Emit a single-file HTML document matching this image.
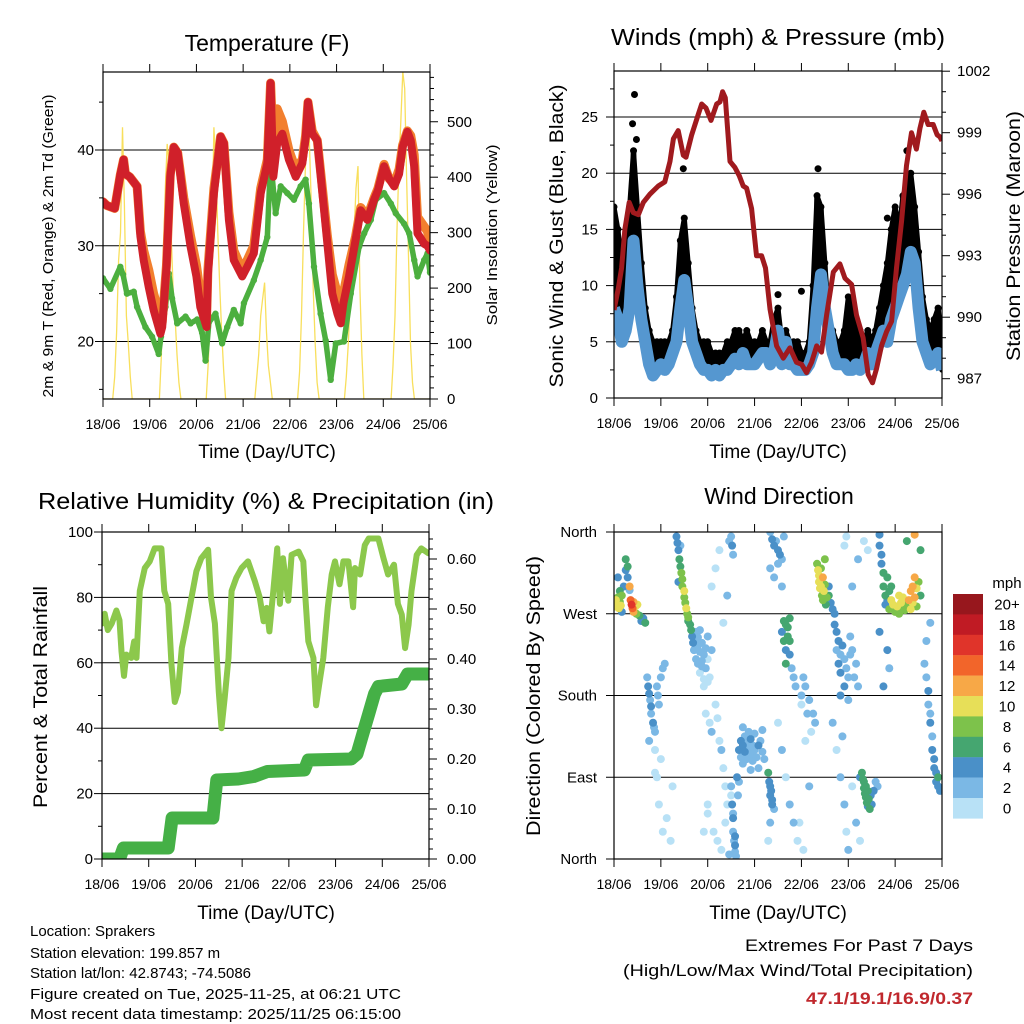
<!DOCTYPE html>
<html><head><meta charset="utf-8"><title>Station meteogram</title>
<style>
html,body{margin:0;padding:0;background:#fff;}
svg{display:block;font-family:"Liberation Sans",Arial,sans-serif;}
</style></head>
<body>
<svg id="chart" xmlns="http://www.w3.org/2000/svg" width="1024" height="1024" viewBox="0 0 1024 1024">
<rect x="0" y="0" width="1024" height="1024" fill="#fff"/>
<defs>
<clipPath id="cT"><rect x="103" y="72" width="327" height="327"/></clipPath>
<clipPath id="cW"><rect x="614" y="71" width="328" height="327"/></clipPath>
<clipPath id="cR"><rect x="102" y="532" width="327" height="327"/></clipPath>
<clipPath id="cD"><rect x="614" y="532" width="328" height="327"/></clipPath>
</defs>
<text x="267" y="51" font-size="23" text-anchor="middle">Temperature (F)</text>
<text x="778" y="45" font-size="23" text-anchor="middle" textLength="334" lengthAdjust="spacingAndGlyphs">Winds (mph) &amp; Pressure (mb)</text>
<text x="266" y="509" font-size="23" text-anchor="middle" textLength="456" lengthAdjust="spacingAndGlyphs">Relative Humidity (%) &amp; Precipitation (in)</text>
<text x="779" y="504" font-size="23" text-anchor="middle">Wind Direction</text>
<text x="267" y="458" font-size="19" text-anchor="middle">Time (Day/UTC)</text>
<text x="778" y="458" font-size="19" text-anchor="middle">Time (Day/UTC)</text>
<text x="266" y="919" font-size="19" text-anchor="middle">Time (Day/UTC)</text>
<text x="778" y="919" font-size="19" text-anchor="middle">Time (Day/UTC)</text>
<text transform="translate(53,246) rotate(-90)" font-size="15" text-anchor="middle" textLength="303" lengthAdjust="spacingAndGlyphs">2m &amp; 9m T (Red, Orange) &amp; 2m Td (Green)</text>
<text transform="translate(497,235) rotate(-90)" font-size="15" text-anchor="middle" textLength="181" lengthAdjust="spacingAndGlyphs">Solar Insolation (Yellow)</text>
<text transform="translate(563,236) rotate(-90)" font-size="19" text-anchor="middle" textLength="303" lengthAdjust="spacingAndGlyphs">Sonic Wind &amp; Gust (Blue, Black)</text>
<text transform="translate(1020,236) rotate(-90)" font-size="19" text-anchor="middle" textLength="250" lengthAdjust="spacingAndGlyphs">Station Pressure (Maroon)</text>
<text transform="translate(47,697) rotate(-90)" font-size="19" text-anchor="middle" textLength="222" lengthAdjust="spacingAndGlyphs">Percent &amp; Total Rainfall</text>
<text transform="translate(540,696) rotate(-90)" font-size="19" text-anchor="middle" textLength="280" lengthAdjust="spacingAndGlyphs">Direction (Colored By Speed)</text>
<g font-size="15">
<text x="30" y="936">Location: Sprakers</text>
<text x="30" y="958">Station elevation: 199.857 m</text>
<text x="30" y="978">Station lat/lon: 42.8743; -74.5086</text>
<text x="30" y="999" textLength="371" lengthAdjust="spacingAndGlyphs">Figure created on Tue, 2025-11-25, at 06:21 UTC</text>
<text x="30" y="1019" textLength="371" lengthAdjust="spacingAndGlyphs">Most recent data timestamp: 2025/11/25 06:15:00</text>
</g>
<g font-size="17" text-anchor="end">
<text x="973" y="951" textLength="228" lengthAdjust="spacingAndGlyphs">Extremes For Past 7 Days</text>
<text x="973" y="976" textLength="350" lengthAdjust="spacingAndGlyphs">(High/Low/Max Wind/Total Precipitation)</text>
<text x="973" y="1004" fill="#c0282d" font-weight="bold" textLength="167" lengthAdjust="spacingAndGlyphs">47.1/19.1/16.9/0.37</text>
</g>
<g id="layer"></g>
</svg>
<script>
// ---------- data ----------
const dayLabels = ["18/06","19/06","20/06","21/06","22/06","23/06","24/06","25/06"];
const tempHours = [0,2,6,8.9,10.6,11.5,13.7,17.5,19.2,20.9,23.5,26,29.5,30.4,32.6,34.6,36.4,38.4,41.5,45,48,50,53.2,53.9,57,60.4,62.1,64.7,67.2,71.5,74.1,77.5,81,84.4,86.1,87.5,89.5,92.1,95.5,99,102.4,104.1,105.3,107.5,110.1,112.7,115.3,117.8,120.4,122.1,123.5,126.4,129.8,132.4,135.8,139.3,141.3,144.4,147,149.6,152.1,153.9,156.4,158.1,159.9,161.6,165,166.7,168];
const temp2m = [34.6,34.2,33.9,37.4,39,37.5,37.2,36.2,31,28.5,25.7,23.3,20.8,21.5,27.8,37.2,40.3,39.7,34.4,29.9,26.8,23.6,21.5,27,35.5,41.4,40.7,32.7,28.5,26.8,27.8,29.2,35.5,38.6,47,37.2,40.7,41.7,39,37.2,38.6,41.2,45,41.7,41,35.5,30.2,25,22.9,21.9,24,26.8,30.6,33.7,32.7,34.8,35.8,38.3,37,36.2,37.5,40.3,41.9,41,38.3,31.3,30.2,30,29.5];
const temp9m = [34.6,34.2,33.9,37.4,39,37.5,37.2,36.2,31.5,29.5,27.5,25,22.5,22,28,37.5,40.3,39.7,35,31,28,25,22.5,27.5,36,41.4,40.7,33.5,29.5,27.5,28.5,30,36,39,47,40,44.3,43,40,38,39,41.5,45,42,41,36,31,27,25,23.5,25,28,31,34,33,35,36,38.5,37,36.5,38,40.5,42,41.5,39.5,33,32,31.5,30];
const dewHours = [0,3.8,8.9,10.3,12.3,15.8,17.5,21.8,25.2,28.6,29.8,32.1,33.8,35.5,38.1,42.4,45,48.4,50.9,52.7,54.4,57.8,61.2,63.8,67.2,70.7,72.4,77.5,81,84.4,86.1,88.7,91.3,94.7,98.1,101.5,104.1,105.8,108.4,111.8,114.4,117,119.6,123.8,127.3,131.6,134.2,137.6,140.1,144.4,147.9,150.4,154.7,157.3,159.9,161.6,165,166.7,168];
const dewPoint = [26.6,25.5,27.8,27,25,25.2,23.6,21.5,20.5,18.7,20.5,23.6,27.1,24.5,21.9,22.6,21.9,22.3,20.9,18,22,22.9,19.8,21.5,23.3,21.9,24,26.4,28.5,30.9,39,33.4,36.2,35.5,34.8,36.2,36.9,34.4,27.8,22.9,20.1,16,19.8,20,25,29.9,31.3,32.7,34.8,35.5,34.4,33.4,32.3,31.3,28.5,26.8,28.5,29.2,27.2];
const solarHours = [0,5,6,7,8,9,10,11,12,13,14,15,29,30,31,32,33,34,35,36,37,38,39,40,53,54,55,56,57,58,59,60,61,62,63,78,79,80,81,82,83,84,85,86,87,100,101,102,103,104,105,106,107,108,109,110,111,124,125,126,127,128,129,130,131,132,133,134,148,149,150,151,152,153,154,155,156,157,158,159,160,168];
const solarVals = [0,0,40,120,250,300,490,350,150,100,40,0,0,80,250,380,460,420,300,200,150,80,30,0,0,60,150,300,490,420,300,200,120,50,0,0,40,80,150,180,210,120,60,30,0,0,50,150,300,420,490,470,350,200,100,30,0,0,40,100,180,250,300,380,420,200,80,0,0,60,150,300,420,500,590,560,400,250,100,30,0,0];
const windHours = [0,2,4,6,8,10,12,14,16,18,20,22,24,26,28,30,32,34,36,38,40,42,44,46,48,50,52,54,56,58,60,62,64,66,68,70,72,74,76,78,80,82,84,86,88,90,92,94,96,98,100,102,104,106,108,110,112,114,116,118,120,122,124,126,128,130,132,134,136,138,140,142,144,146,148,150,152,154,156,158,160,162,164,166,168];
const windSpeed = [8,7,5,6,8,14,10,7,5,3,2,2.5,3,2.5,3,4,5,8,10.5,8,5,4,3,2.5,2.5,2,2.5,2,2.5,2.5,3,3.5,3,4,3,3,3,3.5,4,4,3,4,6,3,5,3,3,2.5,2.5,2.5,3,4,8,11,8,6,4,3,3,3,2.5,2.5,3,2.5,3,4,3,4,5,6,5,7,8,9,10,11,13,12,8,5,4,3,3.5,4,2.5];
const windGust = [17,15,12,10,17,22,17,12,8,6,5,5,5,5,5,6,9,14,16,12,8,6,5,5,5,4,4,4,4,5,5,6,6,5,6,5,5,5,6,5,5,7,8,5,6,5,5,5,4,4,5,10,18,17,12,7,6,5,5,6,9,8,6,6,5,6,5,6,8,10,12,15,17,15,18,19,20,17,13,9,7,6,7,8,5];
const gustSpikeHours = [10.5,9.5,11.5,35.5,84,96,104.5,140,150];
const gustSpikeVals = [27,24.4,23,20.4,9.2,9.5,20.4,16,22];
const presHours = [0,2.2,3.9,5.6,7.8,9.9,12.5,15,18.4,22.7,26,28.7,30.4,32.9,35.5,36.9,39.8,43.2,44.9,47.1,49.7,52.6,54.3,55.6,57,59.4,62,64.2,66.2,67.9,70.5,73,75.6,77.6,79.9,83.3,86.7,90.1,93.5,96.1,98.6,101.2,103.8,106.3,108.9,112.3,115.7,118.3,121.7,124.2,127.6,130.2,132.4,134.5,137,139.6,142.2,144.7,147.3,149.8,152.4,154.9,156.7,158.7,160.9,163.5,165.5,166.9,168];
const presVals = [990.35,991.4,992.4,994.3,995.6,995.1,995,995.6,996,996.4,996.6,997.6,998.7,999.1,997.9,997.8,998.9,999.9,1000.4,1000.2,999.6,1000.4,1000.5,1001,1000.7,997.6,997.3,996.9,996.4,996.3,995.3,993,993,992.4,990.4,988.6,988,988.5,987.8,987.7,987.3,987.8,988.6,988.3,990.1,992.2,992.6,991.9,991.6,990.1,989,987.2,986.8,987.5,988.6,989.3,989.8,992.4,994.7,997.4,999,998.2,999.2,1000,999.4,999.4,998.9,998.8,998.6];
const rhHours = [0,1.4,3,5,7.4,9,10,11.3,12.5,15,16.5,17.7,19.4,22,24.5,27,30.5,32,34,35.7,37.4,39,41,43.4,46,48.5,51,54.5,56,58,60,61.4,63,65,66.6,69,71.7,75,78.5,81,83,84.6,86,88,90,91.4,93,95.7,97.4,101,103.4,104.6,106,108.6,110,112,113.7,116,118,119.7,122,124,126.6,129,130,132.6,135,137,142,144.6,147,150,152,154,155.7,157.5,159,161.7,164,167.7];
const rhVals = [72,75,70,72,76,73,63.5,56,62.5,61.5,66.5,61.5,82,89,91,95,95,82,78,59.4,48,51,64.5,71.7,80,88,92,94.6,80,72,51,40,49,61.5,82,86,89,91,85,80,72.7,76.8,69.6,82,95,78,92,79,93,94,91,79,66.6,61.5,47,55,61.5,77,87,91,84,91,91,77,89,87,96,98,98,92,87,90,78,74.7,64.5,71.7,82,93,95,93.5];
const rainHours = [0,9,11,34,36,57,59,70,78,85,104,106,128,131,134,137,140,142,154,157,168];
const rainVals = [0,0,0.022,0.022,0.082,0.082,0.158,0.16,0.165,0.175,0.178,0.198,0.2,0.21,0.25,0.29,0.33,0.345,0.35,0.37,0.37];
const dirHours = [0,0.5,1,1.5,2,2.5,3,3.5,4,4,5,6,7,8,8.5,9,9.5,10,10,11,11.5,12,13,14,15,16,2,3,6,7,8,
 17,17.5,18,18.5,19,19,20,20.5,21,22,22.5,23,24,25,26,18,21,24,22,21,23,25,27,29,30,
 32,32.5,33,33.5,34,34.5,35,35,36,36,36.5,37,37.5,38,38,39,39.5,40,40.5,41,34,33,
 41,42,42,43,43,44,44,45,45,46,46,47,47,48,48,49,50,42,44,46,48,45,43,
 47,49,50,52,53,54,55,56,57,58,48,51,53,55,57,59,60,50,52,54,56,58,59,46,48,
 60,60.5,61,61,61.5,62,62,62.5,63,63.5,64,61,62,60,60.5,61,
 64,65,65,66,66,67,67,68,68,69,69,70,70,71,71,72,72,73,74,74,75,76,76,77,66,70,
 79,79.5,80,80,80.5,81,81,82,80,79,80,81,82,83,84,85,86,87,80,82,84,86,
 86,87,87,88,88,89,89,90,90,91,92,93,88,90,84,86,88,90,92,94,96,98,100,95,97,99,96,98,100,102,103,97,101,
 104,104.5,105,105,105.5,106,106,106.5,107,107,107.5,108,108.5,109,110,111,112,113,108,110,
 113,114,114,115,115,116,116,117,118,118,119,120,121,121,122,123,124,125,116,120,112,114,116,118,119,120,122,124,126,117,118,119,125,128,130,122,
 127,127.5,128,128,128.5,129,129,129.5,130,130,130.5,131,131.5,132,133,134,126,135,
 136,136,137,137,138,138,139,139,140,140,141,142,143,136,140,141,138,
 141,142,143,144,145,146,146,147,148,148,149,150,151,152,152,153,153,154,154,155,155,156,157,150,154,157,
 159,160,161,161,162,162,163,163,164,164,165,165,166,166,167,160,162];
const dirDeg = [282,278,285,280,288,276,283,279,290,272,300,318,322,300,285,280,276,283,272,278,270,280,268,262,265,260,310,295,330,310,296,
 200,190,182,175,168,160,150,145,140,190,180,170,200,210,215,130,120,110,90,95,60,30,45,20,80,
 355,348,340,330,322,315,308,300,295,288,282,276,270,266,262,258,252,245,238,230,345,305,
 230,240,220,235,215,228,205,238,212,225,198,232,210,245,220,200,230,250,252,190,195,218,244,
 160,150,140,170,155,130,120,100,80,60,50,30,20,10,40,5,70,300,320,340,260,290,350,30,60,
 80,60,45,30,20,15,8,3,90,70,85,50,25,355,345,335,
 120,130,112,125,105,135,118,128,110,122,140,115,132,125,108,120,138,112,125,100,130,118,142,110,145,98,
 95,85,80,70,75,65,60,55,40,20,360,352,345,350,340,335,330,355,320,310,325,300,
 250,262,240,258,230,255,245,240,225,210,200,190,215,265,150,120,90,60,40,20,170,130,80,40,10,160,180,190,175,160,150,200,140,
 325,318,312,305,298,320,300,290,310,285,295,302,280,288,290,282,275,270,330,300,
 258,250,230,240,215,225,205,235,220,190,210,200,245,225,230,200,215,190,180,175,150,120,90,60,30,10,80,40,20,135,345,355,330,350,340,300,
 95,88,85,78,72,80,68,62,75,58,66,55,70,60,75,85,90,80,
 357,345,335,325,315,300,290,280,310,285,295,300,275,250,230,210,190,
 275,285,280,272,278,290,270,282,276,288,274,280,285,295,275,300,282,310,288,298,278,305,290,350,357,340,
 215,200,185,170,160,150,135,120,110,100,95,85,80,90,75,240,260];
const dirSpeed = [9,10,10,11,9,10,9,10,8,5,4,4,7,12,14,16,15,13,12,11,9,10,7,5,4,6,4,6,7,5,3,
 3,4,4,3,4,3,4,3,2,2,3,2,3,2,2,2,1,1,1,1,0,1,0,1,1,
 4,4,5,6,7,8,9,8,10,9,8,10,9,8,7,6,6,5,5,3,3,5,
 2,3,2,3,2,2,1,3,2,2,1,2,2,2,1,1,2,2,3,1,1,3,2,
 1,1,2,1,0,1,2,1,0,1,1,0,1,1,0,2,1,0,1,0,1,2,3,0,1,
 3,4,4,3,3,4,3,2,5,3,2,3,4,2,4,3,
 4,4,3,4,3,3,4,3,2,3,3,3,4,2,3,3,2,3,4,3,2,3,2,3,3,2,
 6,5,5,4,5,4,4,3,2,1,3,4,4,3,4,5,3,2,2,3,2,2,
 4,6,6,6,5,6,7,6,4,3,2,2,7,6,1,2,1,3,2,1,0,1,2,1,0,2,2,3,2,3,3,2,1,
 9,10,10,11,10,9,10,9,12,8,10,9,7,8,6,5,5,4,8,5,
 4,5,3,4,4,3,5,4,3,4,3,3,2,3,2,3,2,3,4,2,2,1,3,2,1,2,1,2,1,3,1,1,2,1,1,2,
 6,7,6,6,7,6,7,6,6,5,7,6,4,5,4,3,4,3,
 4,5,4,5,6,7,6,4,7,5,6,6,5,4,4,3,4,
 9,10,10,9,11,10,8,10,9,11,8,9,12,13,10,12,11,13,12,10,9,8,7,7,13,6,
 3,3,4,3,3,4,3,4,4,5,4,4,5,6,4,3,2];
const speedBins = ["0","2","4","6","8","10","12","14","16","18","20+"];
const speedColors = ["#b8e1f6","#7bb8e5","#4a90c8","#45a670","#7dc24b","#e7df58","#f7a847","#f2652a","#e0342a","#c01b24","#97171d"];
const dirLabels = ["North","East","South","West","North"];
const dirTicks = [0,90,180,270,360];

// ---------- geometry ----------
const NS = "http://www.w3.org/2000/svg";
const layer = document.getElementById('layer');
const PT = {x0:103,x1:430,y0:72,y1:399};
const PW = {x0:614,x1:942,y0:71,y1:398};
const PR = {x0:102,x1:429,y0:532,y1:859};
const PD = {x0:614,x1:942,y0:532,y1:859};
const xs = (p,h) => p.x0 + h/168*(p.x1-p.x0);
const tempY = t => 341.5 - (t-20)*9.575;
const solarY = s => 399 - s*0.5545;
const windY = v => 398 - v*11.24;
const presY = v => 132.7 - (v-999)*20.5;
const rhY = v => 859 - v*3.27;
const rainY = v => 859 - v*500;
const dirY = d => 859 - d*327/360;

function mk(tag, attrs, parent){
  const e = document.createElementNS(NS, tag);
  for (const k in attrs) e.setAttribute(k, attrs[k]);
  (parent||layer).appendChild(e);
  return e;
}
function group(clip){
  return mk('g', clip ? {'clip-path':'url(#'+clip+')'} : {});
}
function pts(p, hours, vals, yf){
  return hours.map((h,i)=> xs(p,h).toFixed(1)+','+yf(vals[i]).toFixed(1)).join(' ');
}
function frame(p, name){
  const r = mk('rect',{x:p.x0,y:p.y0,width:p.x1-p.x0,height:p.y1-p.y0,fill:'none',stroke:'#000','stroke-width':1.2});
  
  
}
function grid(p, vals, yf, name){
  vals.forEach(v=>{
    const l = mk('line',{x1:p.x0,x2:p.x1,y1:yf(v),y2:yf(v),stroke:'#000','stroke-width':1});
    
    
  });
}
function yTicks(p, side, vals, yf, len, labels, lx, name){
  vals.forEach((v,i)=>{
    const y = yf(v);
    const x = side==='left' ? p.x0 : p.x1;
    const l = mk('line',{x1:x,x2:side==='left'?x-len:x+len,y1:y,y2:y,stroke:'#000','stroke-width':1});
    
    
    if (labels){
      const t = mk('text',{x:lx,y:y+5,'font-size':15,'text-anchor':side==='left'?'end':'start'});
      t.textContent = labels[i];
      
      
    }
  });
}
function xTicks(p, name){
  dayLabels.forEach((d,i)=>{
    const x = xs(p, i*24);
    const a = mk('line',{x1:x,x2:x,y1:p.y0,y2:p.y0-8,stroke:'#000','stroke-width':1});
    
    
    const b = mk('line',{x1:x,x2:x,y1:p.y1,y2:p.y1+8,stroke:'#000','stroke-width':1});
    
    
    const t = mk('text',{x:x,y:p.y1+30,'font-size':14,'text-anchor':'middle'});
    t.textContent = d;
    
    
  });
}
function range(a,b,s){const r=[];for(let v=a;v<=b+1e-9;v+=s)r.push(+v.toFixed(4));return r;}

// ---------- Temperature panel ----------
grid(PT,[20,30,40],tempY,'temp-gridline');
let g = group('cT');
let e = mk('polyline',{points:pts(PT,solarHours,solarVals,solarY),fill:'none',stroke:'#f7dc4a','stroke-width':1.3,'stroke-opacity':0.9},g);


e = mk('polyline',{points:pts(PT,dewHours,dewPoint,tempY),fill:'none',stroke:'#4caf3f','stroke-width':5.5,'stroke-linejoin':'round'},g);


dewHours.forEach((h,i)=>{
  const c = mk('circle',{cx:xs(PT,h),cy:tempY(dewPoint[i]),r:3.2,fill:'#4caf3f'},g);
  
  
});
e = mk('polyline',{points:pts(PT,tempHours,temp9m,tempY),fill:'none',stroke:'#f27f2e','stroke-width':9,'stroke-linejoin':'round','stroke-linecap':'round'},g);


e = mk('polyline',{points:pts(PT,tempHours,temp2m,tempY),fill:'none',stroke:'#d0202a','stroke-width':8,'stroke-linejoin':'round','stroke-linecap':'round'},g);


frame(PT,'temp-plot-frame');
yTicks(PT,'left',[20,30,40],tempY,8,["20","30","40"],94,'temp-y');
yTicks(PT,'left',[15,25,35,45],tempY,4,null,0,'temp-y-minor');
yTicks(PT,'right',range(0,500,100),solarY,8,["0","100","200","300","400","500"],447,'solar-y');
yTicks(PT,'right',range(20,580,20).filter(v=>v%100),solarY,4,null,0,'solar-y-minor');
xTicks(PT,'temp');

// ---------- Wind panel ----------
grid(PW,[5,10,15,20,25],windY,'wind-gridline');
g = group('cW');
windHours.forEach((h,i)=>{
  const l = mk('line',{x1:xs(PW,h),x2:xs(PW,h),y1:windY(windSpeed[i]),y2:windY(windGust[i]),stroke:'#000','stroke-width':5.5,'stroke-linecap':'round'},g);
  
  
});
e = mk('polyline',{points:pts(PW,windHours,windGust,windY),fill:'none',stroke:'#000','stroke-width':5,'stroke-linejoin':'round'},g);


windHours.forEach((h,i)=>{
  const c = mk('circle',{cx:xs(PW,h),cy:windY(windGust[i]),r:3.5,fill:'#000'},g);
  
  
});
gustSpikeHours.forEach((h,i)=>{
  const c = mk('circle',{cx:xs(PW,h),cy:windY(gustSpikeVals[i]),r:3.5,fill:'#000'},g);
  
  
});
e = mk('polyline',{points:pts(PW,windHours,windSpeed,windY),fill:'none',stroke:'#5597d0','stroke-width':12,'stroke-linejoin':'round'},g);


e = mk('polyline',{points:pts(PW,presHours,presVals,presY),fill:'none',stroke:'#a01a1e','stroke-width':5,'stroke-linejoin':'round'},g);


frame(PW,'wind-plot-frame');
yTicks(PW,'left',range(0,25,5),windY,8,["0","5","10","15","20","25"],598,'wind-y');
yTicks(PW,'left',range(2.5,27.5,5),windY,4,null,0,'wind-y-minor');
yTicks(PW,'right',range(987,1002,3),presY,8,["987","990","993","996","999","1002"],957,'pressure-y');
yTicks(PW,'right',range(987,1002,1).filter(v=>(v-987)%3),presY,4,null,0,'pressure-y-minor');
xTicks(PW,'wind');

// ---------- Humidity / rain panel ----------
grid(PR,[20,40,60,80],rhY,'humidity-gridline');
g = group('cR');
e = mk('polyline',{points:pts(PR,rhHours,rhVals,rhY),fill:'none',stroke:'#8cc84c','stroke-width':6,'stroke-linejoin':'round','stroke-linecap':'round'},g);


e = mk('polyline',{points:pts(PR,rainHours,rainVals,rainY),fill:'none',stroke:'#45b046','stroke-width':13,'stroke-linejoin':'round','stroke-linecap':'round'},g);


frame(PR,'humidity-plot-frame');
yTicks(PR,'left',range(0,100,20),rhY,8,["0","20","40","60","80","100"],93,'humidity-y');
yTicks(PR,'left',range(10,90,20),rhY,4,null,0,'humidity-y-minor');
yTicks(PR,'right',range(0,0.6,0.1),rainY,8,["0.00","0.10","0.20","0.30","0.40","0.50","0.60"],447,'rain-y');
yTicks(PR,'right',range(0.02,0.64,0.02).filter(v=>Math.round(v*100)%10),rainY,4,null,0,'rain-y-minor');
xTicks(PR,'humidity');

// ---------- Wind direction panel ----------
grid(PD,[90,180,270],dirY,'direction-gridline');
g = group('cD');
const order = dirHours.map((h,i)=>i).sort((a,b)=>dirSpeed[a]-dirSpeed[b]);
order.forEach(i=>{
  const bin = Math.min(10, Math.floor(dirSpeed[i]/2));
  const c = mk('circle',{cx:xs(PD,dirHours[i]),cy:dirY(dirDeg[i]),r:4,fill:speedColors[bin]},g);
  
  
});
frame(PD,'direction-plot-frame');
yTicks(PD,'left',dirTicks,dirY,8,dirLabels,597,'direction-y');
xTicks(PD,'direction');

// ---------- Colorbar legend ----------
let t = mk('text',{x:1007,y:588,'font-size':15,'text-anchor':'middle'});
t.textContent = 'mph';


speedBins.forEach((lab,i)=>{
  const k = speedBins.length-1-i;
  const y = 594 + i*20.4;
  const r = mk('rect',{x:953,y:y,width:30,height:20.6,fill:speedColors[k]});
  
  
  const tx = mk('text',{x:1007,y:y+15.5,'font-size':15,'text-anchor':'middle'});
  tx.textContent = speedBins[k];
  
  
});
</script>
</body></html>
